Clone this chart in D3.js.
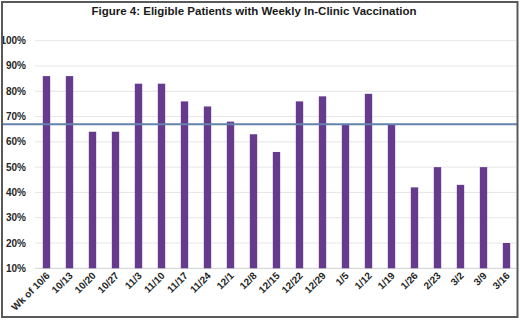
<!DOCTYPE html>
<html>
<head>
<meta charset="utf-8">
<script src="https://cdn.jsdelivr.net/npm/d3@7"></script>
<style>
  body { margin: 0; background: #fff; }
  svg { display: block; }
  .tick-label { font-family: "Liberation Sans Narrow", "Liberation Sans", sans-serif; font-weight: bold; font-size: 10px; fill: #262626; }
  .title { font-family: "Liberation Sans Narrow", "Liberation Sans", sans-serif; font-weight: bold; font-size: 11.5px; fill: #1a1a1a; }
</style>
</head>
<body>
<svg id="chart" width="520" height="320"></svg>
<script>
var W = 520, H = 320;
var margin = { top: 40.7, right: 2, bottom: 51.7, left: 35 };

// data
var weeks = ["Wk of 10/6", "10/13", "10/20", "10/27", "11/3", "11/10", "11/17", "11/24",
    "12/1", "12/8", "12/15", "12/22", "12/29", "1/5", "1/12", "1/19", "1/26",
    "2/23", "3/2", "3/9", "3/16"];
var pctVaccinated = [86, 86, 64, 64, 83, 83, 76, 74, 68, 63, 56, 76, 78, 67, 79, 67, 42, 50, 43, 50, 20];
var targetLine = 67;
var yTicks = [10, 20, 30, 40, 50, 60, 70, 80, 90, 100];
var titleText = "Figure 4: Eligible Patients with Weekly In-Clinic Vaccination";

var barColor = "#663a8d";
var lineColor = "#6582ad";

var svg = d3.select("#chart");

svg.append("rect")
    .attr("x", 0).attr("y", 0)
    .attr("width", W).attr("height", H)
    .attr("fill", "#fff");

var x = d3.scaleBand()
    .domain(weeks)
    .range([margin.left, W - margin.right])
    .paddingInner(0.68)
    .paddingOuter(0.34);

var y = d3.scaleLinear()
    .domain([10, 100])
    .range([H - margin.bottom, margin.top]);

// gridlines
svg.append("g")
    .selectAll("line")
    .data(yTicks)
    .enter()
    .append("line")
    .attr("x1", margin.left)
    .attr("x2", W - 4)
    .attr("y1", function (d) { return y(d); })
    .attr("y2", function (d) { return y(d); })
    .attr("stroke", function (d) { return d === 10 ? "#d0d0d0" : "#e6e6e6"; })
    .attr("stroke-width", 1);

// y axis labels
svg.append("g")
    .selectAll("text")
    .data(yTicks)
    .enter()
    .append("text")
    .attr("class", "tick-label")
    .attr("x", 26)
    .attr("y", function (d) { return y(d); })
    .attr("dy", "0.35em")
    .attr("text-anchor", "end")
    .text(function (d) { return d + "%"; });

// bars
svg.append("g")
    .selectAll("rect")
    .data(pctVaccinated)
    .enter()
    .append("rect")
    .attr("x", function (d, i) { return x(weeks[i]); })
    .attr("width", x.bandwidth())
    .attr("y", function (d) { return y(d); })
    .attr("height", function (d) { return y(10) - y(d); })
    .attr("fill", barColor);

// x labels, rotated
svg.append("g")
    .selectAll("text")
    .data(weeks)
    .enter()
    .append("text")
    .attr("class", "tick-label")
    .attr("text-anchor", "end")
    .attr("transform", function (d) {
        var cx = x(d) + x.bandwidth() / 2 + 4;
        return "translate(" + cx + "," + (y(10) + 8) + ") rotate(-45)";
    })
    .text(function (d) { return d; });

// target line
svg.append("line")
    .attr("x1", 2)
    .attr("x2", W - 3)
    .attr("y1", y(targetLine))
    .attr("y2", y(targetLine))
    .attr("stroke", lineColor)
    .attr("stroke-width", 2);

// title
svg.append("text")
    .attr("class", "title")
    .attr("x", 254)
    .attr("y", 15)
    .attr("text-anchor", "middle")
    .text(titleText);

// frame
svg.append("rect")
    .attr("x", 2).attr("y", 2)
    .attr("width", W - 4.5).attr("height", H - 5)
    .attr("fill", "none")
    .attr("stroke", "#595959")
    .attr("stroke-width", 2);
</script>
</body>
</html>
